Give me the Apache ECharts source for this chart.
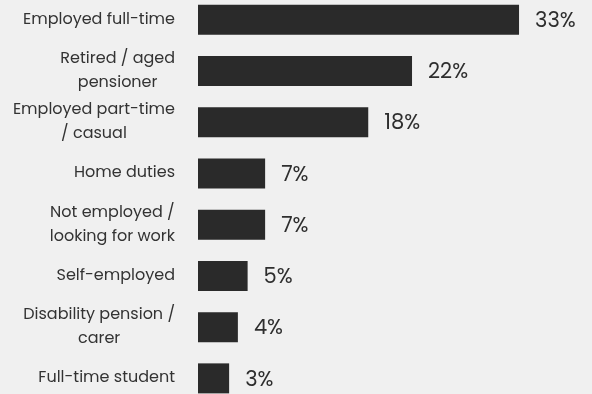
<!DOCTYPE html>
<html lang="en">
<head>
    <meta charset="UTF-8">
    <title>Employment status</title>
    <style>
    html, body{
    margin:0;
    padding:0;
    background:#f0f0f0;
    overflow:hidden;
}
 #main{
    position: relative;
    top: -5.6px;
    width: 592px;
    height:410px;
}
    </style>
    </head>
    <body>
    <div id="main"></div>
    <script src="https://cdn.jsdelivr.net/npm/echarts@6/dist/echarts.min.js"></script>
    <script>
    // categories (top to bottom) and shares in %
    var categories = ['Employed full-time', 'Retired / aged\npensioner', 'Employed part-time\n/ casual', 'Home duties',
        'Not employed /\nlooking for work', 'Self-employed', 'Disability pension /\ncarer', 'Full-time student'];
    var shares = [33, 22, 17.5, 6.9, 6.9, 5.1, 4.1, 3.2];

    var fontList = 'Poppins, "Noto Sans", sans-serif';
    var labelSize = 16;

    // two-line labels are centred inside their block, block is right aligned
    var ctx = document.createElement('canvas').getContext('2d');
    ctx.font = labelSize + 'px ' + fontList;
    var rich = {};
    categories.forEach(function (name, i) {
        var w = 0;
        name.split('\n').forEach(function (line) {
            w = Math.max(w, ctx.measureText(line).width);
        });
        rich['c' + i] = {
            width: w,
            align: 'center',
            fontFamily: fontList,
            fontSize: labelSize,
            lineHeight: 24,
            color: '#333333'
        };
    });

    var myChart = echarts.init(document.getElementById('main'));
    var option = {
        backgroundColor: '#f0f0f0',
        animation: false,
        grid: {
            left: 198,
            right: 0,
            top: 0,
            bottom: 0
        },
        xAxis: {
            type: 'value',
            min: 0,
            max: 40.5,
            show: false
        },
        yAxis: {
            type: 'category',
            inverse: true,
            data: categories,
            axisLine: {show: false},
            axisTick: {show: false},
            axisLabel: {
                margin: 23,
                fontFamily: fontList,
                fontSize: labelSize,
                lineHeight: 24,
                color: '#333333',
                rich: rich,
                formatter: function (value, idx) {
                    return value.split('\n').map(function (line) {
                        return '{c' + idx + '|' + line + '}';
                    }).join('\n');
                }
            }
        },
        series: [{
            type: 'bar',
            data: shares,
            barWidth: 30,
            itemStyle: {color: '#2a2a2a'},
            label: {
                show: true,
                position: 'right',
                distance: 16,
                offset: [0, 2],
                fontFamily: fontList,
                fontSize: 21,
                color: '#2e2e2e',
                formatter: function (p) { return Math.round(p.value) + '%'; }
            }
        }]
    };
    myChart.setOption(option);
</script>
 </body>
 </html>
